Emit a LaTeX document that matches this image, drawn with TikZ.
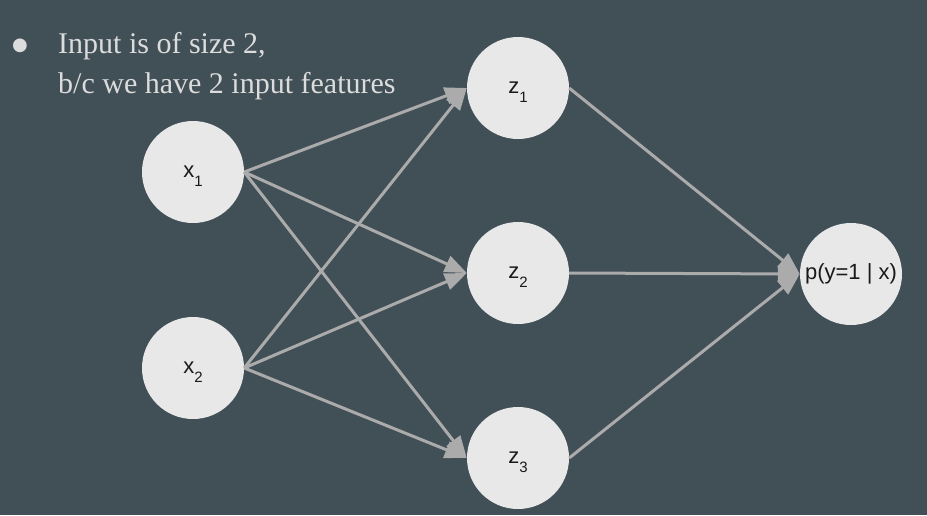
\documentclass[tikz,border=0pt]{standalone}
\usepackage{fontspec}
\setmainfont{Liberation Serif}
\newfontfamily\labelfont{Liberation Sans}
\newfontfamily\symbfont{DejaVu Sans}
\usetikzlibrary{arrows.meta}

\definecolor{slatebg}{HTML}{414F57}
\definecolor{unitfill}{HTML}{E8E8E8}
\definecolor{wiregray}{HTML}{ABABAB}
\definecolor{notetext}{HTML}{DCDCDC}

\newcommand{\lowidx}[1]{\smash{\raisebox{-0.38em}{\fontsize{15}{15}\selectfont #1}}}

\tikzset{
    unit/.style={circle,fill=unitfill,minimum size=102pt,inner sep=0pt,text=black!90,font=\labelfont\fontsize{22}{26}\selectfont},
    wire/.style={draw=wiregray,line width=3pt,-{Triangle[length=22pt,width=17pt]}},
    note/.style={text=notetext,font=\fontsize{30}{40}\selectfont},
}

\begin{document}
\begin{tikzpicture}[x=1pt,y=-1pt]
    \fill[slatebg] (0,0) rectangle (927,515);
    \useasboundingbox (0,0) rectangle (927,515);
    \node[note,anchor=base,font=\symbfont\fontsize{18}{20}\selectfont] (dot) at (20,50) {●};
    \node[note,anchor=base west,align=left,inner sep=0pt] (txt) at (58,93) {Input is of size 2,\\b/c we have 2 input features};
    \node[unit] (x1) at (193,172) {x\lowidx{1}};
    \node[unit] (x2) at (193,368) {x\lowidx{2}};
    \node[unit] (z1) at (518,88) {z\lowidx{1}};
    \node[unit] (z2) at (518,273) {z\lowidx{2}};
    \node[unit] (z3) at (518,458) {z\lowidx{3}};
    \node[unit] (out) at (851,274) {p(y=1 | x)};
    % input -> hidden
    \draw[wire] (x1.east) -- (z1.west);
    \draw[wire] (x1.east) -- (z2.west);
    \draw[wire] (x1.east) -- (z3.west);
    \draw[wire] (x2.east) -- (z1.west);
    \draw[wire] (x2.east) -- (z2.west);
    \draw[wire] (x2.east) -- (z3.west);
    % hidden -> output
    \draw[wire] (z1.east) -- (out.west);
    \draw[wire] (z2.east) -- (out.west);
    \draw[wire] (z3.east) -- (out.west);
\end{tikzpicture}
\end{document}
